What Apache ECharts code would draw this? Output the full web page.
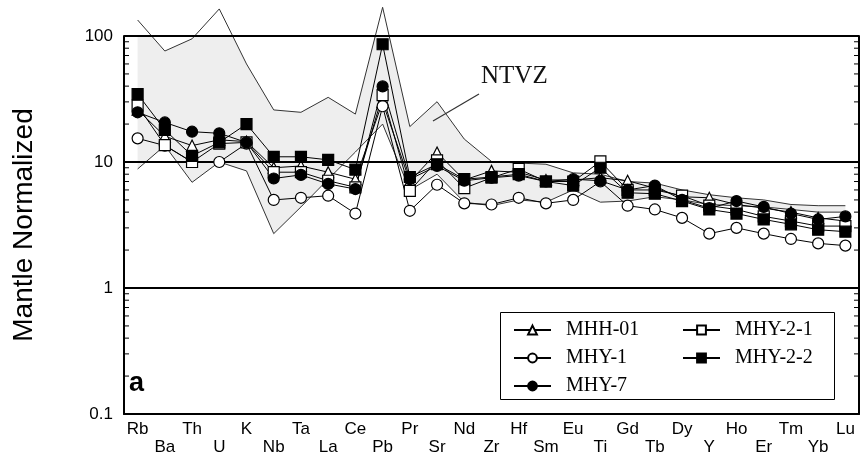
<!DOCTYPE html>
<html><head><meta charset="utf-8">
<script src="https://cdn.jsdelivr.net/npm/echarts@6/dist/echarts.min.js"></script>
<style>html,body{margin:0;padding:0;background:#fff}#c{width:863px;height:468px}</style>
</head><body><div id="c"></div>
<script>
const categories = ['Rb','Ba','Th','U','K','Nb','Ta','La','Ce','Pb','Pr','Sr','Nd','Zr','Hf','Sm','Eu','Ti','Gd','Tb','Dy','Y','Ho','Er','Tm','Yb','Lu'];
const mhh01  = [26,16,13.5,15,14.5,9.0,9.3,8.3,7.3,30,7.0,11.9,7.2,8.5,8.3,7.2,7.2,7.5,7.1,6.2,5.3,5.2,4.6,4.3,4.0,3.6,3.4];
const mhy1   = [15.4,13.5,10,10,14,5.0,5.2,5.4,3.9,27.7,4.1,6.6,4.7,4.6,5.2,4.7,5.0,7.0,4.5,4.2,3.6,2.7,3.0,2.7,2.45,2.26,2.17];
const mhy21  = [28,13.6,10,14,14.3,8.3,8.3,7.1,6.3,34,5.9,10.3,6.2,7.5,8.8,7.0,7.0,10.1,6.0,6.0,5.4,4.5,4.2,3.7,3.4,3.1,3.1];
const mhy22  = [34.6,18,11.2,14.3,20,11,11,10.4,8.7,86,7.6,9.6,7.3,7.6,8.0,7.0,6.5,9.0,5.7,5.6,4.9,4.2,3.9,3.5,3.2,2.9,2.8];
const mhy7   = [24.8,20.6,17.4,16.9,14.3,7.4,7.9,6.7,6.1,39.8,7.3,9.3,7.1,7.5,7.8,7.0,7.3,7.1,6.0,6.5,5.0,4.3,4.9,4.4,3.9,3.5,3.7];
const ntvzUpper = [134,76,95,164,60,25.9,24.8,32.6,24,169,19.1,30.1,15.2,10.1,9.8,9.6,8.2,8.0,7.0,6.8,6.0,5.5,5.2,5.0,4.6,4.5,4.5];
const ntvzLower = [8.8,13.5,6.9,10,8.5,2.7,4.4,7.3,12,20,6.0,8.0,4.8,4.5,5.0,4.8,6.0,4.8,4.9,5.3,5.0,4.6,4.5,4.4,4.2,4.0,4.0];
const decadeLines = [1, 10, 100];
const minorTickValues = [0.2,0.3,0.4,0.5,0.6,0.7,0.8,0.9,2,3,4,5,6,7,8,9,20,30,40,50,60,70,80,90];

const chart = echarts.init(document.getElementById('c'));
const band = ntvzUpper.map((u, i) => u - ntvzLower[i]);

function sample(name, data, symbol, filled, size) {
  return {
    name, type: 'line', data, symbol, symbolSize: size, z: 5,
    lineStyle: { color: '#000', width: 1 },
    itemStyle: { color: filled ? '#000' : '#fff', borderColor: '#000', borderWidth: 1.2 },
    emphasis: { disabled: true }
  };
}

const legendText = { fontFamily: 'Liberation Serif', fontSize: 20, color: '#000', padding: [0, 0, 0, 10] };

const option = {
  animation: false,
  grid: { left: 124, right: 4, top: 36, bottom: 54, outerBoundsMode: 'none' },
  xAxis: {
    type: 'category', data: categories, boundaryGap: true,
    axisLine: { lineStyle: { color: '#000', width: 2 } },
    axisTick: { alignWithLabel: true, inside: true, length: 7, lineStyle: { color: '#000', width: 1.5 } },
    axisLabel: { interval: 0, color: '#000', fontFamily: 'Liberation Sans', fontSize: 17, lineHeight: 18, margin: 6,
      formatter: (v, i) => (i % 2 ? '\n' + v : v) },
    splitLine: { show: false }
  },
  yAxis: [
    { type: 'log', logBase: 10, min: 0.1, max: 100, position: 'left',
      name: 'Mantle Normalized', nameLocation: 'middle', nameGap: 86, nameRotate: 90,
      nameTextStyle: { fontFamily: 'Liberation Sans', fontSize: 28, color: '#000' },
      axisLine: { show: true, lineStyle: { color: '#000', width: 2 } },
      axisTick: { show: true, inside: true, length: 8, lineStyle: { color: '#000', width: 1.5 } },
      axisLabel: { color: '#000', fontFamily: 'Liberation Sans', fontSize: 17, margin: 11 },
      splitLine: { show: false } },
    { type: 'log', logBase: 10, min: 0.1, max: 100, position: 'right',
      axisLine: { show: true, lineStyle: { color: '#000', width: 2 } },
      axisTick: { show: true, inside: true, length: 8, lineStyle: { color: '#000', width: 1.5 } },
      axisLabel: { show: false },
      splitLine: { show: false } }
  ],
  legend: [
    { data: ['MHH-01', 'MHY-1', 'MHY-7'], orient: 'vertical', left: 508, top: 315, itemWidth: 37, itemHeight: 11, itemGap: 8,
      textStyle: legendText, selectedMode: false },
    { data: ['MHY-2-1', 'MHY-2-2'], orient: 'vertical', left: 677, top: 315, itemWidth: 37, itemHeight: 11, itemGap: 8,
      textStyle: legendText, selectedMode: false }
  ],
  graphic: [
    { type: 'rect', left: 498, top: 310, shape: { width: 334, height: 87 }, style: { fill: 'none', stroke: '#000', lineWidth: 1 }, z: 10 },
    { type: 'text', left: 129, top: 370, style: { text: 'a', font: 'bold 27px "Liberation Sans"', fill: '#000' }, z: 10 },
    { type: 'text', left: 481, top: 64, style: { text: 'NTVZ', font: '25px "Liberation Serif"', fill: '#111' }, z: 10 },
    { type: 'line', shape: { x1: 479, y1: 94, x2: 433, y2: 121 }, style: { stroke: '#333', lineWidth: 1.2 }, z: 10 }
  ],
  series: [
    { name: 'lower', type: 'line', data: ntvzLower, stack: 'ntvz', symbol: 'none', z: 1, silent: true,
      lineStyle: { color: '#333', width: 1 } },
    { name: 'band', type: 'line', data: band, stack: 'ntvz', symbol: 'none', z: 1, silent: true,
      lineStyle: { width: 0, opacity: 0 }, areaStyle: { color: '#eeeeee', opacity: 1 } },
    { name: 'upper', type: 'line', data: ntvzUpper, symbol: 'none', z: 2, clip: false, silent: true,
      lineStyle: { color: '#333', width: 1 } },
    { name: 'refs', type: 'line', data: ntvzLower, symbol: 'none', z: 3, silent: true,
      lineStyle: { opacity: 0 },
      markLine: { symbol: 'none', silent: true, label: { show: false },
        lineStyle: { color: '#000', width: 2, type: 'solid' },
        data: decadeLines.map(v => ({ yAxis: v })) } },
    { name: 'minorTicks', type: 'custom', silent: true, z: 6, clip: false,
      data: minorTickValues.map(v => [0, v]),
      encode: { x: 0, y: 1 },
      renderItem: (params, api) => {
        const y = api.coord([0, api.value(1)])[1];
        const cs = params.coordSys;
        const st = { stroke: '#000', lineWidth: 1 };
        return { type: 'group', children: [
          { type: 'line', shape: { x1: cs.x, y1: y, x2: cs.x + 5, y2: y }, style: st },
          { type: 'line', shape: { x1: cs.x + cs.width - 5, y1: y, x2: cs.x + cs.width, y2: y }, style: st }
        ] };
      } },
    sample('MHH-01', mhh01, 'triangle', false, 11),
    sample('MHY-1', mhy1, 'circle', false, 11),
    sample('MHY-2-1', mhy21, 'rect', false, 11),
    sample('MHY-7', mhy7, 'circle', true, 11),
    sample('MHY-2-2', mhy22, 'rect', true, 11)
  ]
};
chart.setOption(option);
</script>
</body></html>
